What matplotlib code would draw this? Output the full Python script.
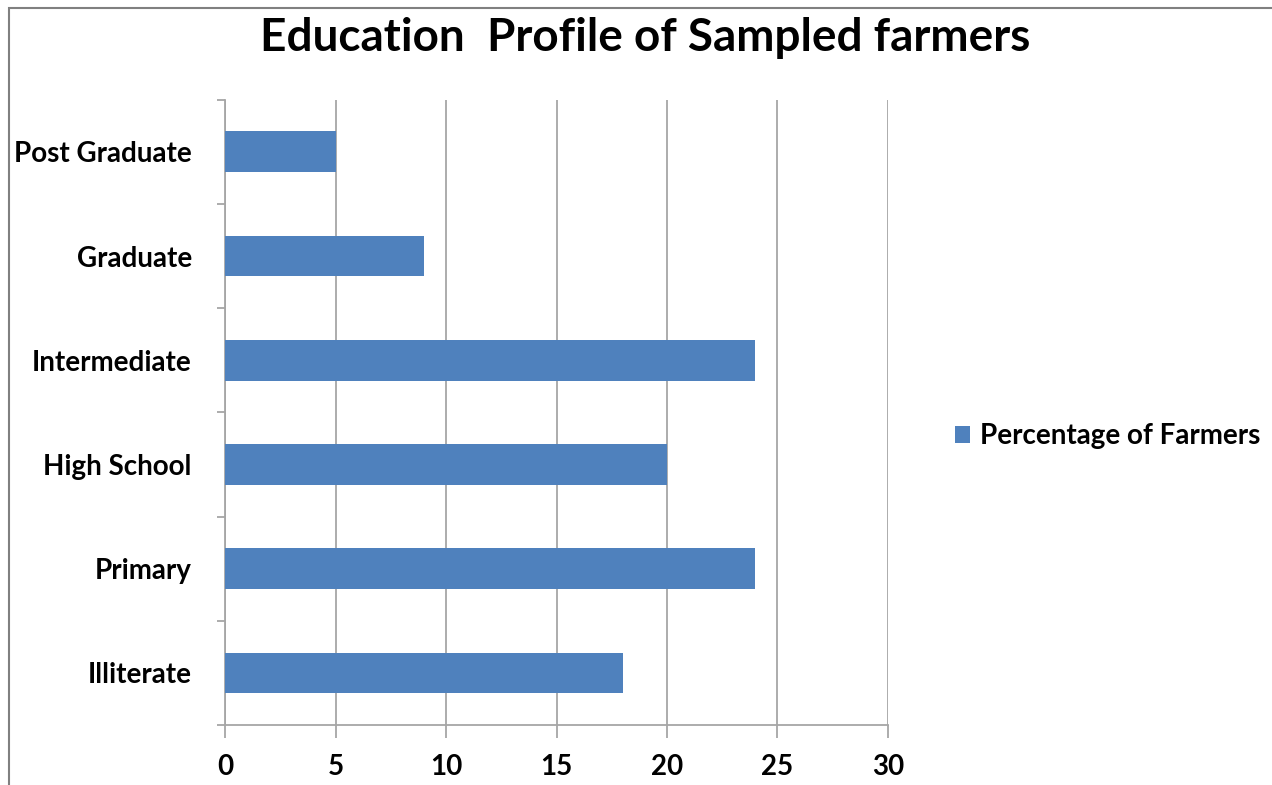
import numpy as np
import matplotlib
matplotlib.use('Agg')
from matplotlib import pyplot as plt
from matplotlib.patches import Rectangle

# data
categories = ['Illiterate', 'Primary', 'High School', 'Intermediate', 'Graduate', 'Post Graduate']
percent_farmers = [18, 24, 20, 24, 9, 5]
x_ticks = [0, 5, 10, 15, 20, 25, 30]

plt.rcParams['font.family'] = ['Lato', 'DejaVu Sans']
bar_color = '#4F81BD'
grid_color = '#A6A6A6'

fig = plt.figure(figsize=(12.72, 7.85), dpi=100)
ax = fig.add_axes([0.177, 0.0764, 0.521, 0.7966])

y_pos = np.arange(len(categories))
ax.barh(y_pos, percent_farmers, height=0.39, color=bar_color,
        label='Percentage of Farmers', zorder=3)

ax.set_xlim(0, 30)
ax.set_ylim(-0.5, len(categories) - 0.5)
ax.set_xticks(x_ticks)
ax.set_xticklabels([str(t) for t in x_ticks], fontsize=20, fontweight='bold')
ax.set_yticks(y_pos)
ax.set_yticklabels(categories, fontsize=20, fontweight='bold')
ax.set_yticks(np.arange(-0.5, len(categories)), minor=True)

ax.tick_params(axis='y', which='major', length=0, pad=24)
ax.tick_params(axis='y', which='minor', length=6, color=grid_color, width=1.3)
ax.tick_params(axis='x', which='major', length=9, color=grid_color, width=1.3, pad=12)

ax.grid(axis='x', color=grid_color, linewidth=1.3, zorder=0)
for side in ['top', 'right']:
    ax.spines[side].set_visible(False)
for side in ['left', 'bottom']:
    ax.spines[side].set_color(grid_color)
    ax.spines[side].set_linewidth(1.3)

fig.text(0.507, 0.952, 'Education  Profile of Sampled farmers', ha='center', va='center',
         fontsize=33, fontweight='bold')

ax.legend(loc='center left', bbox_to_anchor=(1.101, 0.462), frameon=False,
          prop={'size': 20, 'weight': 'bold'}, handlelength=0.55, handleheight=0.55,
          handletextpad=0.35, borderaxespad=0, borderpad=0)

# outer frame of the chart
fig.patches.append(Rectangle((9 / 1272, -0.05), 1.2, 1.05 - 8 / 785,
                             transform=fig.transFigure, fill=False,
                             edgecolor='#808080', linewidth=1.5))

fig.savefig('out.png', dpi=100)
